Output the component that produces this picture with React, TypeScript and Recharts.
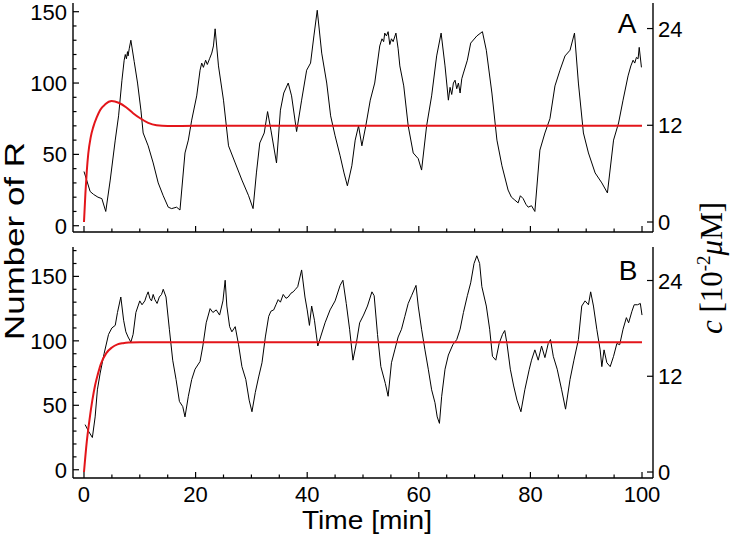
import { Line, LineChart, XAxis, YAxis } from "recharts";

const FONT = "'Liberation Sans', Arial, Helvetica, sans-serif";
const SERIF = "'Liberation Serif', 'Times New Roman', serif";

// time axis
const xTicks = [0, 5, 10, 15, 20, 25, 30, 35, 40, 45, 50, 55, 60, 65, 70, 75, 80, 85, 90, 95, 100];
const xMajor = [0, 20, 40, 60, 80, 100];
const xDomain = [-1.97, 101.97];

// left axis (Number of R)
const countTicksA = [0, 10, 20, 30, 40, 50, 60, 70, 80, 90, 100, 110, 120, 130, 140, 150];
const countTicksB = [0, 10, 20, 30, 40, 50, 60, 70, 80, 90, 100, 110, 120, 130, 140, 150, 160, 170];
const countMajor = [0, 50, 100, 150];
const countDomainA = [-4.4, 156.1];
const countDomainB = [-6.4, 172.8];

// right axis (c, 10^-2 uM)
const concTicks = [0, 12, 24];
const concDomainA = [-1.24, 27.17];
const concDomainB = [-0.75, 28.2];

// stochastic run, panel A: [time, number of R]
const stochA: [number, number][] = [
  [0, 38], [0.4, 33], [1.1, 24], [1.7, 22], [2.5, 20], [3.2, 19], [3.9, 10], [4.7, 32], [5.6, 60],
  [6.2, 77], [6.8, 102], [7.2, 116], [7.4, 120], [7.6, 117], [7.8, 122], [7.9, 119], [8.1, 124],
  [8.4, 130], [9.0, 115], [9.6, 100], [10.2, 81], [10.6, 65], [11.5, 56], [12.4, 44], [13.3, 30],
  [14.2, 21], [15.1, 13], [15.7, 12], [16.6, 13], [17.2, 11], [18.1, 51], [18.7, 60], [19.3, 74],
  [20.2, 91], [20.8, 109], [21.1, 114], [21.4, 111], [21.8, 116], [22.1, 113], [22.5, 117],
  [22.9, 121], [23.2, 126], [23.5, 138], [24.1, 112], [25.0, 88], [25.9, 56], [27.1, 44], [28.3, 32],
  [29.5, 21], [30.3, 12], [30.9, 37], [31.5, 58], [32.3, 65], [32.9, 80], [33.5, 67], [34.5, 44],
  [35.2, 81], [35.8, 93], [36.6, 100], [37.2, 91], [38.1, 66], [39.0, 88], [39.9, 109], [40.6, 114],
  [41.2, 133], [41.8, 151], [42.6, 121], [43.5, 100], [44.2, 77], [45.0, 63], [45.9, 49], [46.6, 37],
  [47.2, 28], [48.0, 42], [48.6, 60], [49.2, 70], [49.8, 56], [50.5, 70], [51.3, 88], [52.1, 100],
  [53.0, 126], [53.4, 131], [53.7, 129], [53.9, 135], [54.2, 133], [54.5, 136], [54.8, 127],
  [55.1, 131], [55.4, 129], [55.9, 135], [56.3, 124], [56.6, 112], [57.3, 98], [58.1, 70], [59.0, 51],
  [59.9, 47], [60.5, 39], [61.4, 70], [62.3, 91], [63.2, 119], [64.0, 135], [64.7, 112], [65.3, 88],
  [65.6, 97], [65.9, 92], [66.2, 100], [66.5, 102], [66.8, 96], [67.1, 100], [67.4, 93], [67.7, 103],
  [68.0, 107], [68.7, 116], [69.3, 128], [70.4, 133], [71.4, 136], [72.1, 123], [73.1, 93], [74.0, 60],
  [74.9, 42], [76.0, 25], [76.6, 20], [77.2, 18], [77.8, 16], [78.2, 21], [78.7, 19], [79.2, 15],
  [79.6, 13], [80.2, 14], [80.8, 10], [81.7, 53], [82.6, 65], [83.5, 75], [84.4, 98], [85.3, 109],
  [86.2, 119], [87.1, 123], [87.9, 135], [88.6, 100], [89.5, 65], [90.4, 51], [91.6, 37], [92.8, 30],
  [93.8, 23], [94.9, 60], [95.8, 72], [96.6, 88], [97.5, 105], [98.0, 112], [98.4, 116], [98.7, 114],
  [99.0, 118], [99.3, 117], [99.5, 125], [99.9, 111],
];

// deterministic solution, panel A: [time, c]
const detA: [number, number][] = [
  [0, 0], [0.25, 3.5], [0.5, 6.3], [0.77, 8.5], [1.2, 10.5], [1.67, 11.8], [2.3, 13], [2.9, 13.9],
  [3.8, 14.6], [4.95, 15], [6.2, 14.8], [7.6, 14.2], [8.8, 13.5], [10, 12.9], [11.5, 12.3], [13, 12],
  [15, 11.9], [20, 11.95], [100, 11.95],
];

// stochastic run, panel B: [time, number of R]
const stochB: [number, number][] = [
  [0.2, 35], [0.8, 30], [1.5, 25], [2.0, 41], [2.4, 62], [2.9, 75], [3.6, 90], [4.4, 105], [5.0, 110],
  [5.6, 112], [6.0, 122], [6.6, 134], [7.1, 116], [7.5, 107], [7.9, 103], [8.4, 99], [8.8, 105],
  [9.3, 122], [10.0, 131], [10.4, 128], [10.9, 131], [11.2, 135], [11.5, 138], [11.8, 133],
  [12.1, 131], [12.4, 136], [12.7, 132], [13.1, 129], [13.5, 134], [13.9, 136], [14.2, 140],
  [14.7, 134], [15.3, 109], [15.9, 85], [16.5, 70], [17.1, 53], [17.7, 49], [18.1, 41], [18.7, 57],
  [19.3, 70], [19.9, 78], [20.8, 84], [21.3, 96], [21.9, 114], [22.6, 125], [23.1, 122], [23.7, 124],
  [24.3, 120], [24.9, 131], [25.3, 147], [25.6, 127], [26.1, 111], [26.5, 107], [27.1, 111], [27.7, 97],
  [28.3, 80], [29.0, 70], [29.6, 54], [30.1, 45], [30.7, 60], [31.3, 72], [31.9, 83], [32.5, 103],
  [33.1, 119], [33.5, 123], [34.0, 124], [34.4, 128], [34.8, 132], [35.2, 130], [35.7, 136],
  [36.2, 133], [36.6, 134], [37.1, 137], [37.5, 138], [37.9, 140], [38.3, 142], [39.0, 155],
  [39.6, 134], [40.0, 124], [40.4, 112], [40.8, 127], [41.3, 116], [41.9, 96], [42.4, 103], [43.2, 114],
  [44.1, 124], [45.0, 131], [45.9, 143], [46.4, 147], [47.0, 129], [47.6, 109], [48.2, 85], [48.8, 98],
  [49.4, 114], [50.1, 120], [50.8, 127], [51.6, 138], [52.0, 135], [52.6, 105], [53.2, 80], [54.0, 67],
  [54.5, 57], [55.1, 83], [55.7, 93], [56.3, 103], [56.9, 109], [57.5, 119], [58.1, 129], [58.7, 135],
  [59.5, 143], [59.9, 127], [60.5, 109], [61.1, 93], [61.7, 78], [62.3, 62], [62.9, 52], [63.3, 41],
  [63.7, 36], [64.1, 57], [64.7, 78], [65.3, 89], [66.1, 97], [66.8, 101], [67.4, 109], [68.0, 122],
  [68.7, 135], [69.3, 145], [69.9, 160], [70.4, 166], [70.9, 160], [71.3, 142], [72.1, 127], [72.7, 109],
  [73.2, 88], [73.8, 85], [74.4, 98], [75.0, 105], [75.4, 108], [75.8, 98], [76.4, 78], [77.0, 65],
  [77.6, 54], [78.3, 45], [79.0, 62], [79.8, 78], [80.2, 85], [80.8, 93], [81.4, 85], [82.0, 96],
  [82.6, 87], [83.2, 98], [83.6, 101], [84.1, 88], [84.8, 78], [85.6, 62], [86.3, 47], [87.1, 70],
  [87.8, 85], [88.6, 101], [89.2, 127], [89.8, 131], [90.4, 128], [90.8, 138], [91.3, 127], [91.9, 109],
  [92.5, 93], [92.8, 80], [93.2, 93], [93.7, 83], [94.3, 80], [94.9, 88], [95.5, 98], [96.0, 97],
  [96.6, 109], [97.2, 118], [97.6, 114], [98.2, 123], [98.6, 128], [99.2, 128], [99.7, 129], [100.0, 120],
];

// deterministic solution, panel B: [time, c]
const detB: [number, number][] = [
  [0, 0], [0.5, 3.8], [1, 6.6], [1.5, 9], [2, 10.9], [2.5, 12.3], [3, 13.5], [4, 14.9], [5, 15.6],
  [6, 16], [7, 16.15], [8, 16.22], [10, 16.25], [100, 16.25],
];

const toRows = (pts: [number, number][]) => pts.map(([t, v]) => ({ t, v }));

const bottomTick = (showLabels: boolean) => (props: any) => {
  const { x, y, payload } = props;
  const major = xMajor.includes(payload.value);
  return (
    <g>
      <line x1={x} x2={x} y1={y} y2={y - (major ? 6 : 3.5)} stroke="#000" strokeWidth={1.2} />
      {showLabels && major && (
        <text x={x} y={y + 24} textAnchor="middle" fontSize={22} fontFamily={FONT} fill="#000">
          {payload.value}
        </text>
      )}
    </g>
  );
};

const leftTick = (props: any) => {
  const { x, y, payload } = props;
  const major = countMajor.includes(payload.value);
  return (
    <g>
      <line x1={x} x2={x + (major ? 6 : 3.5)} y1={y} y2={y} stroke="#000" strokeWidth={1.2} />
      {major && (
        <text x={x - 6} y={y + 8} textAnchor="end" fontSize={22} fontFamily={FONT} fill="#000">
          {payload.value}
        </text>
      )}
    </g>
  );
};

const rightTick = (props: any) => {
  const { x, y, payload } = props;
  return (
    <g>
      <line x1={x} x2={x - 6} y1={y} y2={y} stroke="#000" strokeWidth={1.2} />
      <text x={x + 5} y={y + 8} textAnchor="start" fontSize={22} fontFamily={FONT} fill="#000">
        {payload.value}
      </text>
    </g>
  );
};

function Panel({
  stoch,
  det,
  countTicks,
  countDomain,
  concDomain,
  height,
  top,
  bottomAxisHeight,
  showXLabels,
}: {
  stoch: [number, number][];
  det: [number, number][];
  countTicks: number[];
  countDomain: number[];
  concDomain: number[];
  height: number;
  top: number;
  bottomAxisHeight: number;
  showXLabels: boolean;
}) {
  const axisStyle = { stroke: "#000", strokeWidth: 1.4 };
  return (
    <LineChart
      width={731}
      height={height}
      margin={{ top, right: 38, bottom: 0, left: 33 }}
      style={{ position: "absolute", left: 0, top: 0 }}
    >
      <XAxis
        dataKey="t"
        type="number"
        domain={xDomain}
        allowDataOverflow
        ticks={xTicks}
        interval={0}
        tickSize={0}
        tickMargin={0}
        tickLine={false}
        tick={bottomTick(showXLabels)}
        axisLine={axisStyle}
        height={bottomAxisHeight}
      />
      <XAxis
        xAxisId="top"
        orientation="top"
        dataKey="t"
        type="number"
        domain={xDomain}
        allowDataOverflow
        tick={false}
        tickLine={false}
        axisLine={axisStyle}
        height={0}
      />
      <YAxis
        yAxisId="count"
        type="number"
        domain={countDomain}
        allowDataOverflow
        ticks={countTicks}
        interval={0}
        tickSize={0}
        tickMargin={0}
        tickLine={false}
        tick={leftTick}
        axisLine={axisStyle}
        width={40}
      />
      <YAxis
        yAxisId="conc"
        orientation="right"
        type="number"
        domain={concDomain}
        allowDataOverflow
        ticks={concTicks}
        interval={0}
        tickSize={0}
        tickMargin={0}
        tickLine={false}
        tick={rightTick}
        axisLine={axisStyle}
        width={40}
      />
      <Line
        yAxisId="count"
        data={toRows(stoch)}
        dataKey="v"
        type="linear"
        stroke="#000"
        strokeWidth={1}
        dot={false}
        isAnimationActive={false}
      />
      <Line
        yAxisId="conc"
        data={toRows(det)}
        dataKey="v"
        type="monotone"
        stroke="#e3151a"
        strokeWidth={2}
        dot={false}
        isAnimationActive={false}
      />
    </LineChart>
  );
}

export default function App() {
  return (
    <div style={{ position: "absolute", left: 0, top: 0, width: 731, height: 541, background: "#fff" }}>
      <div style={{ position: "absolute", left: 0, top: 0, width: 731, height: 240 }}>
        <Panel
          stoch={stochA}
          det={detA}
          countTicks={countTicksA}
          countDomain={countDomainA}
          concDomain={concDomainA}
          height={240}
          top={3}
          bottomAxisHeight={8}
          showXLabels={false}
        />
      </div>
      <div style={{ position: "absolute", left: 0, top: 240, width: 731, height: 301 }}>
        <Panel
          stoch={stochB}
          det={detB}
          countTicks={countTicksB}
          countDomain={countDomainB}
          concDomain={concDomainB}
          height={301}
          top={7}
          bottomAxisHeight={63}
          showXLabels={true}
        />
      </div>
      <svg width={731} height={541} style={{ position: "absolute", left: 0, top: 0, pointerEvents: "none" }}>
        <text x={627} y={33} textAnchor="middle" fontSize={28} fontFamily={FONT} fill="#000">A</text>
        <text x={628} y={280} textAnchor="middle" fontSize={28} fontFamily={FONT} fill="#000">B</text>
        <text
          transform="translate(24, 241) rotate(-90)"
          textAnchor="middle"
          fontSize={28}
          fontFamily={FONT}
          fill="#000"
          textLength={198}
          lengthAdjust="spacingAndGlyphs"
        >
          Number of R
        </text>
        <text
          x={367}
          y={529}
          textAnchor="middle"
          fontSize={26}
          fontFamily={FONT}
          fill="#000"
          textLength={130}
          lengthAdjust="spacingAndGlyphs"
        >
          Time [min]
        </text>
        <text
          transform="translate(722, 268) rotate(-90)"
          textAnchor="middle"
          fontSize={31}
          fontFamily={SERIF}
          fill="#000"
        >
          <tspan fontStyle="italic">c</tspan>
          <tspan> [10</tspan>
          <tspan fontSize={19} dy={-12}>-2</tspan>
          <tspan fontStyle="italic" dy={12}>μ</tspan>
          <tspan>M]</tspan>
        </text>
      </svg>
    </div>
  );
}
